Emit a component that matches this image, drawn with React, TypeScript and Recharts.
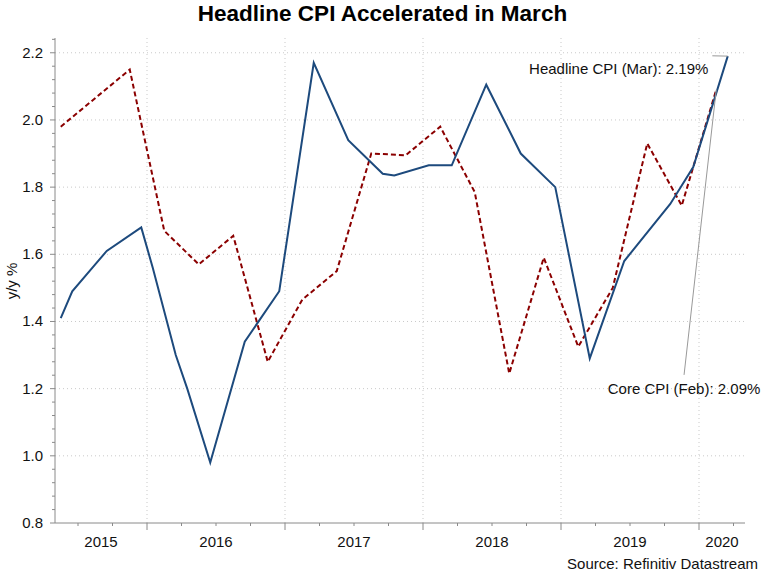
import { LineChart, Line, XAxis, YAxis, ReferenceLine, ReferenceDot } from 'recharts'

// monthly readings (only the months where the line changes direction)
const headlineMonths = [
  '2015-05', '2015-06', '2015-08', '2015-09', '2015-12', '2016-01', '2016-03', '2016-04', '2016-06',
  '2016-09', '2016-12', '2017-03', '2017-06', '2017-09', '2017-10', '2018-01', '2018-03', '2018-06',
  '2018-09', '2018-12', '2019-03', '2019-06', '2019-10', '2019-12', '2020-03',
]
const headlineValues = [
  1.41, 1.49, 1.57, 1.61, 1.68, 1.56, 1.3, 1.2, 0.98,
  1.34, 1.49, 2.17, 1.94, 1.84, 1.835, 1.865, 1.865, 2.105,
  1.9, 1.8, 1.29, 1.58, 1.75, 1.86, 2.19,
]

const coreMonths = [
  '2015-05', '2015-11', '2016-02', '2016-05', '2016-08', '2016-11', '2017-02', '2017-05', '2017-08',
  '2017-11', '2018-02', '2018-05', '2018-08', '2018-11', '2019-02', '2019-05', '2019-08', '2019-11',
  '2020-02',
]
const coreValues = [
  1.98, 2.15, 1.67, 1.57, 1.655, 1.28, 1.465, 1.55, 1.9,
  1.895, 1.98, 1.785, 1.245, 1.59, 1.325, 1.5, 1.93, 1.745,
  2.09,
]

const yearLabels = ['2015', '2016', '2017', '2018', '2019', '2020']
const yLabels = [0.8, 1.0, 1.2, 1.4, 1.6, 1.8, 2.0, 2.2]

const FONT = '"Liberation Sans", Arial, Helvetica, sans-serif'
const AXIS = '#8a8a8a'
const GRID = '#c9c9c9'
const HEADLINE = '#1d4a7d'
const CORE = '#8b0000'

// months counted from Jan 2015, points sit mid-month
const monthStart = (m: string) => {
  const [y, mo] = m.split('-').map(Number)
  return (y - 2015) * 12 + mo - 1
}
const toX = (m: string) => monthStart(m) + 0.5

const X_MIN = monthStart('2015-05')
const X_MAX = monthStart('2020-05')
const Y_MIN = 0.8
const Y_MAX = 2.244

const headlineData = headlineMonths.map((m, i) => ({ x: toX(m), value: headlineValues[i] }))
const coreData = coreMonths.map((m, i) => ({ x: toX(m), value: coreValues[i] }))

const yearMid = new Map<number, string>()
yearLabels.forEach((label, i) => {
  const a = Math.max(X_MIN, i * 12)
  const b = Math.min(X_MAX, (i + 1) * 12)
  yearMid.set((a + b) / 2, label)
})
const yearBounds = yearLabels.map((_, i) => i * 12).filter((v) => v > X_MIN && v < X_MAX)

const xTicks: number[] = []
for (let v = X_MIN; v <= X_MAX; v++) {
  if ((v % 3 === 0 && v > X_MIN && v < X_MAX) || yearMid.has(v)) xTicks.push(v)
}

const yTicks: number[] = []
for (let v = 80; v <= 224; v += 4) yTicks.push(v / 100)

const lastHeadline = headlineData[headlineData.length - 1]
const lastCore = coreData[coreData.length - 1]
const headlineNote = { x: 61.16, y: 2.191 }
const coreNote = { x: 58.7, y: 1.241 }

function XTick(props: any) {
  const { x, y, payload } = props
  const v = payload.value
  const len = v % 12 === 0 ? 7 : v % 3 === 0 ? 3 : 0
  const label = yearMid.get(v)
  return (
    <g>
      {len > 0 && <line x1={x} x2={x} y1={y} y2={y + len} stroke={AXIS} />}
      {label && (
        <text x={x} y={y + 24} textAnchor="middle" fontSize={15} fill="#111" fontFamily={FONT}>
          {label}
        </text>
      )}
    </g>
  )
}

function YTick(props: any) {
  const { x, y, payload } = props
  const v = Math.round(payload.value * 100)
  const major = v % 20 === 0
  return (
    <g>
      <line x1={x - (major ? 5 : 3)} x2={x} y1={y} y2={y} stroke={AXIS} />
      {major && (
        <text x={x - 12} y={y + 5} textAnchor="end" fontSize={15} fill="#111" fontFamily={FONT}>
          {(v / 100).toFixed(1)}
        </text>
      )}
    </g>
  )
}

export default function App() {
  return (
    <div style={{ position: 'absolute', left: 0, top: 0, width: 770, height: 582, background: '#fff' }}>
      <LineChart width={770} height={582} margin={{ top: 38, right: 25, bottom: 29, left: 10 }}>
        <XAxis
          type="number"
          dataKey="x"
          domain={[X_MIN, X_MAX]}
          allowDataOverflow
          ticks={xTicks}
          interval={0}
          tick={XTick}
          tickLine={false}
          tickSize={0}
          tickMargin={0}
          height={30}
          axisLine={{ stroke: AXIS }}
        />
        <YAxis
          type="number"
          domain={[Y_MIN, Y_MAX]}
          allowDataOverflow
          ticks={yTicks}
          interval={0}
          tick={YTick}
          tickLine={false}
          tickSize={0}
          tickMargin={0}
          width={45}
          axisLine={{ stroke: AXIS }}
        />
        {yLabels.slice(1).map((v) => (
          <ReferenceLine key={`h${v}`} y={v} stroke={GRID} strokeDasharray="1 3" />
        ))}
        {yearBounds.map((v) => (
          <ReferenceLine key={`v${v}`} x={v} stroke={GRID} strokeDasharray="1 3" />
        ))}
        <Line
          data={coreData}
          dataKey="value"
          type="linear"
          stroke={CORE}
          strokeWidth={2}
          strokeDasharray="5 3"
          dot={false}
          isAnimationActive={false}
        />
        <Line
          data={headlineData}
          dataKey="value"
          type="linear"
          stroke={HEADLINE}
          strokeWidth={2}
          dot={false}
          isAnimationActive={false}
        />
        <ReferenceLine
          segment={[headlineNote, { x: lastHeadline.x, y: lastHeadline.value }]}
          stroke="#999"
          ifOverflow="visible"
        />
        <ReferenceLine
          segment={[coreNote, { x: lastCore.x, y: lastCore.value }]}
          stroke="#999"
          ifOverflow="visible"
        />
        <ReferenceDot
          x={headlineNote.x}
          y={headlineNote.y}
          r={0}
          fill="none"
          stroke="none"
          ifOverflow="visible"
          label={(p: any) => (
            <text x={p.viewBox.x - 4} y={p.viewBox.y + 18} textAnchor="end" fontSize={15} fill="#111" fontFamily={FONT}>
              {`Headline CPI (Mar): ${lastHeadline.value.toFixed(2)}%`}
            </text>
          )}
        />
        <ReferenceDot
          x={coreNote.x}
          y={coreNote.y}
          r={0}
          fill="none"
          stroke="none"
          ifOverflow="visible"
          label={(p: any) => (
            <text x={p.viewBox.x} y={p.viewBox.y + 19} textAnchor="middle" fontSize={15} fill="#111" fontFamily={FONT}>
              {`Core CPI (Feb): ${lastCore.value.toFixed(2)}%`}
            </text>
          )}
        />
      </LineChart>
      <svg width={770} height={582} style={{ position: 'absolute', left: 0, top: 0, pointerEvents: 'none' }}>
        <text x={382.5} y={21} textAnchor="middle" fontSize={22.5} fontWeight="bold" fill="#000" fontFamily={FONT}>
          Headline CPI Accelerated in March
        </text>
        <text transform="translate(17,281) rotate(-90)" textAnchor="middle" fontSize={15} fill="#111" fontFamily={FONT}>
          y/y %
        </text>
        <text x={758} y={569} textAnchor="end" fontSize={15} fill="#111" fontFamily={FONT}>
          Source: Refinitiv Datastream
        </text>
      </svg>
    </div>
  )
}
